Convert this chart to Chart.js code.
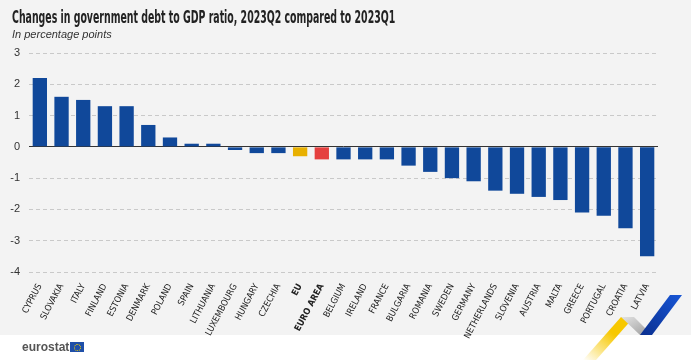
<!DOCTYPE html>
<html>
<head>
<meta charset="utf-8">
<script src="https://cdn.jsdelivr.net/npm/chart.js@4.4.0/dist/chart.umd.min.js"></script>
<style>
  html, body { margin: 0; padding: 0; background: #fff; }
  #wrap { position: relative; width: 691px; height: 363px; overflow: hidden; }
  #panel { position: absolute; left: 0; top: 0; width: 691px; height: 335px; background: #f3f3f3; }
  #title { position: absolute; left: 12px; top: 7px; font: bold 17px "Liberation Sans Narrow", "DejaVu Sans Condensed", sans-serif; color: #222; white-space: nowrap; transform-origin: left top; }
  #sub { position: absolute; left: 12px; top: 28px; font: italic 11px "Liberation Sans", sans-serif; color: #333; }
  #chart-box { position: absolute; left: 0; top: 0; width: 691px; height: 363px; }
  #logo { position: absolute; left: 22px; top: 340px; font: bold 12px "Liberation Sans", sans-serif; color: #555; }
  #flag { display: inline-block; width: 14px; height: 10px; background: #1f4fa8; vertical-align: -1px; margin-left: 1px; position: relative; }
  #flag i { position: absolute; left: 4px; top: 2px; width: 5px; height: 5px; border: 1px dotted #f5d000; border-radius: 50%; }
  #ribbon { position: absolute; left: 0; top: 0; }
</style>
</head>
<body>
<div id="wrap">
  <div id="panel"></div>
  <svg id="ribbon" width="691" height="363">
    <defs>
      <linearGradient id="yg" x1="0" y1="1" x2="1" y2="0">
        <stop offset="0" stop-color="#f7c800" stop-opacity="0"/>
        <stop offset="0.6" stop-color="#f7c800" stop-opacity="1"/>
      </linearGradient>
      <linearGradient id="gg" x1="0" y1="0" x2="1" y2="1">
        <stop offset="0" stop-color="#e4e4e4"/>
        <stop offset="1" stop-color="#9a9a9a"/>
      </linearGradient>
      <linearGradient id="bg" x1="0" y1="1" x2="1" y2="0">
        <stop offset="0" stop-color="#0a2f8f"/>
        <stop offset="1" stop-color="#1856d6"/>
      </linearGradient>
    </defs>
    <polygon points="583,360 596,360 634,317 621,317" fill="url(#yg)"/>
    <polygon points="621,317 634,317 652,335 640,335" fill="url(#gg)"/>
    <polygon points="640,335 652,335 682,295 670,295" fill="url(#bg)"/>
  </svg>
  <div id="chart-box"><canvas id="chart" width="691" height="363"></canvas></div>
  <div id="title">Changes in government debt to GDP ratio, 2023Q2 compared to 2023Q1</div>
  <div id="sub">In percentage points</div>
  <div id="logo">eurostat<span id="flag"><i></i></span></div>
</div>
<script>
var countries = ['CYPRUS', 'SLOVAKIA', 'ITALY', 'FINLAND', 'ESTONIA', 'DENMARK', 'POLAND', 'SPAIN',
  'LITHUANIA', 'LUXEMBOURG', 'HUNGARY', 'CZECHIA', 'EU', 'EURO AREA', 'BELGIUM', 'IRELAND', 'FRANCE',
  'BULGARIA', 'ROMANIA', 'SWEDEN', 'GERMANY', 'NETHERLANDS', 'SLOVENIA', 'AUSTRIA', 'MALTA', 'GREECE',
  'PORTUGAL', 'CROATIA', 'LATVIA'];
var changes = [2.2, 1.6, 1.5, 1.3, 1.3, 0.7, 0.3, 0.1, 0.1, -0.1, -0.2, -0.2, -0.3, -0.4, -0.4, -0.4, -0.4,
  -0.6, -0.8, -1.0, -1.1, -1.4, -1.5, -1.6, -1.7, -2.1, -2.2, -2.6, -3.5];
var yTicks = [-4, -3, -2, -1, 0, 1, 2, 3];

var BLUE = '#10489a', EU_COL = '#e8b000', EA_COL = '#e5403f';

// squeeze title to the condensed width of the original
var t = document.getElementById('title');
t.style.transform = 'scaleX(' + (383 / t.offsetWidth) + ')';

var colors = countries.map(function (c) {
  if (c === 'EU') return EU_COL;
  if (c === 'EURO AREA') return EA_COL;
  return BLUE;
});

var narrow = '"Liberation Sans Narrow", "DejaVu Sans Condensed", sans-serif';

new Chart(document.getElementById('chart'), {
  type: 'bar',
  data: {
    labels: countries,
    datasets: [{
      data: changes,
      backgroundColor: colors,
      barPercentage: 0.66,
      categoryPercentage: 1
    }]
  },
  options: {
    responsive: false,
    animation: false,
    layout: { padding: { top: 53, right: 33, left: 0, bottom: 1 } },
    plugins: { legend: { display: false }, tooltip: { enabled: false } },
    scales: {
      x: {
        grid: { display: false },
        border: { display: false },
        afterFit: function (s) { s.height = 90; },
        ticks: {
          autoSkip: false,
          minRotation: 62,
          maxRotation: 62,
          padding: 2,
          color: '#222',
          font: function (ctx) {
            var lab = countries[ctx.index];
            var bold = lab === 'EU' || lab === 'EURO AREA';
            return { family: narrow, size: 9, weight: bold ? 'bold' : 'normal' };
          }
        }
      },
      y: {
        min: -4,
        max: 3,
        afterFit: function (s) { s.width = 29; },
        afterBuildTicks: function (s) { s.ticks = yTicks.map(function (v) { return { value: v }; }); },
        border: {
          display: false,
          dash: function (ctx) { return ctx.tick && ctx.tick.value === 0 ? [] : [4, 3]; }
        },
        grid: {
          drawTicks: false,
          color: function (ctx) { return ctx.tick && ctx.tick.value === 0 ? '#333' : '#c9c9c9'; },
          lineWidth: 1
        },
        ticks: {
          padding: 9,
          color: '#333',
          font: { family: '"Liberation Sans", sans-serif', size: 11 }
        }
      }
    }
  }
});
</script>
</body>
</html>
